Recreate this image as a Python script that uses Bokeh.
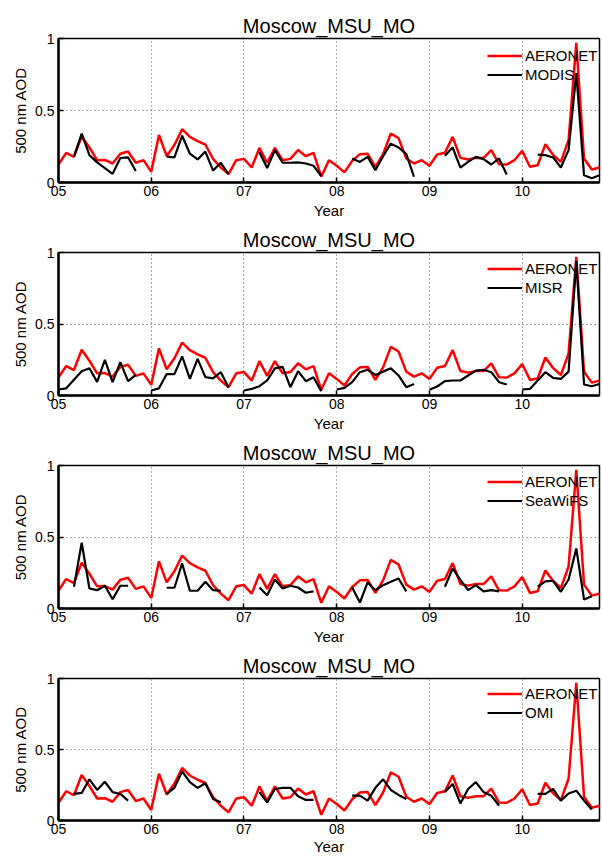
import numpy as np
from bokeh.plotting import figure
from bokeh.layouts import column
from bokeh.models import FixedTicker, Range1d
from bokeh.embed import file_html
from bokeh.resources import INLINE

nan = float("nan")

# Month index 0 = Jan 2005 ... 70 = Nov 2010
months = list(range(71))
year_ticks = [5, 6, 7, 8, 9, 10]
year_labels = ["05", "06", "07", "08", "09", "10"]
aod_ticks = [0, 0.5, 1]
aod_labels = ["0", "0.5", "1"]
site = "Moscow_MSU_MO"

aeronet = [0.125, 0.206, 0.178, 0.32, 0.243, 0.155, 0.157, 0.132, 0.2, 0.215, 0.137, 0.155,
           0.074, 0.33, 0.183, 0.26, 0.37, 0.317, 0.287, 0.264, 0.164, 0.104, 0.058, 0.155,
           0.164, 0.104, 0.24, 0.137, 0.24, 0.155, 0.164, 0.225, 0.183, 0.206, 0.04, 0.155,
           0.116, 0.07, 0.15, 0.197, 0.2, 0.109, 0.197, 0.34, 0.308, 0.167, 0.132, 0.155,
           0.116, 0.194, 0.206, 0.317, 0.171, 0.16, 0.171, 0.171, 0.225, 0.127, 0.125, 0.155,
           0.22, 0.109, 0.12, 0.266, 0.192, 0.143, 0.294, 0.97, 0.167, 0.09, 0.104]

modis = [nan, nan, 0.18, 0.34, 0.19, 0.14, 0.10, 0.06, 0.17, 0.175, 0.08, nan,
         nan, nan, 0.18, 0.175, 0.325, 0.20, 0.16, 0.215, 0.083, 0.137, 0.058, nan,
         nan, nan, 0.21, 0.10, 0.225, 0.137, 0.137, 0.14, 0.132, 0.116, 0.045, nan,
         nan, nan, 0.167, 0.143, 0.178, 0.086, 0.183, 0.27, 0.243, 0.197, 0.04, nan,
         nan, nan, 0.185, 0.243, 0.104, 0.143, 0.178, 0.162, 0.125, 0.167, 0.056, nan,
         nan, nan, 0.194, 0.19, 0.174, 0.104, 0.225, 0.76, 0.05, 0.03, 0.05]

misr = [0.042, 0.05, 0.11, 0.17, 0.19, 0.095, 0.25, 0.093, 0.233, 0.10, 0.144, nan,
        0.035, 0.05, 0.15, 0.15, 0.274, 0.116, 0.256, 0.128, 0.12, 0.163, 0.058, nan,
        0.035, 0.046, 0.065, 0.105, 0.19, 0.20, 0.058, 0.17, 0.10, 0.128, 0.03, nan,
        0.042, 0.053, 0.093, 0.163, 0.18, 0.144, 0.167, 0.19, 0.14, 0.058, 0.08, nan,
        0.04, 0.063, 0.10, 0.105, 0.105, 0.14, 0.174, 0.18, 0.163, 0.093, 0.077, nan,
        0.042, 0.046, 0.105, 0.163, 0.123, 0.116, 0.167, 0.94, 0.077, 0.065, 0.08]

seawifs = [nan, nan, 0.152, 0.46, 0.14, 0.128, 0.159, 0.065, 0.159, 0.159, nan, nan,
           nan, nan, 0.145, 0.145, 0.315, 0.124, 0.124, 0.187, 0.128, 0.124, nan, nan,
           nan, nan, 0.147, 0.093, 0.203, 0.14, 0.159, 0.147, 0.11, 0.12, nan, nan,
           nan, nan, 0.147, 0.042, 0.182, 0.128, 0.163, 0.187, 0.21, 0.12, nan, nan,
           nan, nan, 0.152, 0.28, 0.20, 0.128, 0.163, 0.12, 0.128, 0.12, nan, nan,
           nan, nan, 0.152, 0.19, 0.194, 0.117, 0.203, 0.42, 0.063, 0.085, nan]

omi = [nan, nan, 0.187, 0.194, 0.29, 0.215, 0.273, 0.20, 0.187, 0.14, nan, nan,
       nan, nan, 0.187, 0.23, 0.346, 0.27, 0.23, 0.262, 0.152, 0.128, nan, nan,
       nan, nan, 0.20, 0.128, 0.222, 0.23, 0.23, 0.17, 0.145, 0.145, nan, nan,
       nan, nan, 0.175, 0.175, 0.14, 0.23, 0.29, 0.215, 0.18, 0.152, nan, nan,
       nan, nan, 0.20, 0.257, 0.12, 0.222, 0.27, 0.20, 0.175, 0.105, nan, nan,
       nan, nan, 0.187, 0.187, 0.222, 0.14, 0.19, 0.21, 0.14, 0.077, nan]

panels = [("MODIS", modis), ("MISR", misr), ("SeaWiFS", seawifs), ("OMI", omi)]

x = [5 + m / 12.0 for m in months]
FONT = "Liberation Sans"

figs = []
heights = [222, 213, 213, 209]
tops = [38, 30, 30, 30]
bottoms = [40, 40, 40, 36]
for i, (name, sat) in enumerate(panels):
    last = i == len(panels) - 1
    p = figure(width=602, height=heights[i], output_backend="svg", toolbar_location=None,
               x_range=Range1d(5, 5 + 70 / 12.0), y_range=Range1d(0, 1),
               min_border_left=58, min_border_right=3, min_border_top=tops[i],
               min_border_bottom=bottoms[i])
    p.title.text = site
    p.title.align = "center"
    p.title.text_font = FONT
    p.title.text_font_size = "20px"
    p.title.text_font_style = "normal"
    p.title.text_color = "black"
    p.title.standoff = 4

    p.line(x, aeronet, color="#ff0000", line_width=2.5, legend_label="AERONET")
    p.line(x, sat, color="#000000", line_width=2.2, legend_label=name)

    p.xaxis.ticker = FixedTicker(ticks=year_ticks)
    p.xaxis.major_label_overrides = dict(zip(year_ticks, year_labels))
    p.yaxis.ticker = FixedTicker(ticks=aod_ticks)
    p.yaxis.major_label_overrides = dict(zip(aod_ticks, aod_labels))
    p.xaxis.axis_label = "Year"
    p.yaxis.axis_label = "500 nm AOD"
    for ax in (p.xaxis[0], p.yaxis[0]):
        ax.axis_line_width = 2.5
        ax.axis_line_color = "black"
        ax.major_tick_in = 5
        ax.major_tick_out = 0
        ax.major_tick_line_width = 1.5
        ax.minor_tick_line_color = None
        ax.major_label_text_font = FONT
        ax.major_label_text_font_size = "14px"
        ax.major_label_text_color = "black"
        ax.axis_label_text_font = FONT
        ax.axis_label_text_font_size = "15px"
        ax.axis_label_text_font_style = "normal"
        ax.axis_label_text_color = "black"
    p.xaxis.major_label_standoff = 3
    p.xaxis.axis_label_standoff = 1 if last else 3
    p.yaxis.major_label_standoff = 4
    p.yaxis.axis_label_standoff = 3

    p.xgrid.ticker = FixedTicker(ticks=year_ticks)
    p.ygrid.ticker = FixedTicker(ticks=aod_ticks)
    for g in (p.xgrid[0], p.ygrid[0]):
        g.grid_line_color = "#555555"
        g.grid_line_dash = "1 3"
        g.grid_line_width = 1
    p.outline_line_color = "black"
    p.outline_line_width = 1.5
    p.outline_line_alpha = 1

    lg = p.legend[0]
    lg.location = (429, 98)
    lg.background_fill_alpha = 0
    lg.border_line_alpha = 0
    lg.label_text_font = FONT
    lg.label_text_font_size = "15px"
    lg.label_text_color = "black"
    lg.glyph_width = 35
    lg.label_standoff = 3
    lg.spacing = 0
    lg.padding = 0
    lg.margin = 0
    lg.label_height = 19
    lg.glyph_height = 19
    figs.append(p)

layout = column(*figs, spacing=0)
open("out.html", "w").write(file_html(layout, INLINE))
